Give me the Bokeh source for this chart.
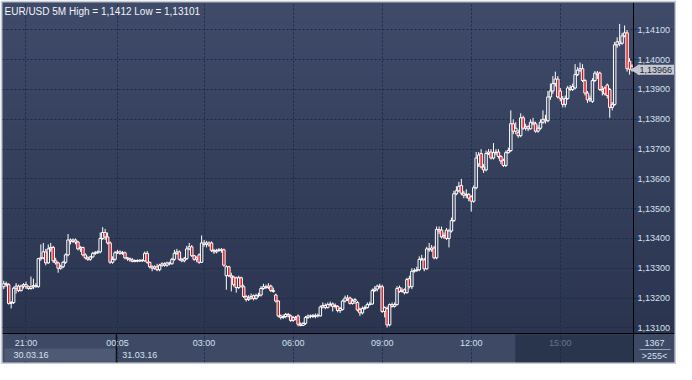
import numpy as np
from bokeh.plotting import figure
from bokeh.models import (ColumnDataSource, Range1d, FixedTicker, LinearAxis,
                          CustomJSTickFormatter, Label, BoxAnnotation)
from bokeh.embed import file_html
from bokeh.resources import INLINE

# ---------------- data (prices in 1e-5 above 1.13000) ----------------
open_p = [238,248,245,182,185,233,240,225,240,245,
          238,232,238,242,238,332,335,355,318,365,
          370,325,318,300,305,320,345,395,390,395,
          388,365,370,345,335,330,338,350,352,355,
          400,420,405,385,320,330,352,355,350,352,
          335,332,328,323,326,324,327,325,350,320,
          305,300,305,295,310,315,310,318,315,330,
          350,355,330,325,332,365,372,342,330,345,
          320,385,380,385,385,360,355,360,362,362,
          275,305,275,270,268,235,268,238,205,195,
          200,208,198,208,210,232,238,235,240,225,
          210,190,140,135,138,145,140,125,135,140,
          112,108,115,135,140,138,138,142,140,170,
          175,168,178,180,172,172,158,162,190,200,
          200,182,190,185,162,150,165,168,178,180,
          225,230,240,238,155,165,110,178,172,178,
          235,222,228,218,265,238,290,292,295,330,
          328,298,365,362,368,335,430,428,405,428,
          400,425,460,550,560,578,552,545,548,540,
          525,570,650,685,640,630,685,690,670,688,
          690,675,662,645,688,695,785,760,755,745,
          805,770,775,768,790,785,760,770,790,800,
          795,875,895,920,935,895,868,850,870,905,
          900,905,950,965,970,930,888,865,860,930,
          955,955,900,905,915,900,840,850,1050,1060,
          1055,1080,1090,995,978]
high_p = [258,255,250,190,238,250,245,245,250,255,
          242,272,265,250,335,380,385,365,380,385,
          375,335,322,312,325,350,415,400,400,400,
          392,375,372,350,340,342,355,358,360,420,
          438,432,420,390,340,358,362,360,358,356,
          338,336,334,330,330,330,330,356,358,322,
          310,310,315,315,320,320,322,322,335,362,
          365,360,335,338,375,385,378,345,340,350,
          410,395,392,390,390,365,365,368,368,366,
          310,308,285,275,272,275,272,245,210,210,
          215,212,215,218,240,248,245,250,245,235,
          215,192,145,145,150,150,145,140,140,145,
          118,120,140,145,145,146,148,148,175,185,
          182,185,188,185,182,176,170,195,208,210,
          205,198,200,190,168,172,175,185,188,232,
          240,245,248,245,172,172,182,185,185,240,
          242,235,232,268,275,300,300,305,340,345,
          335,372,385,378,375,440,440,440,420,435,
          432,470,560,575,590,600,560,565,552,545,
          578,690,690,700,650,695,700,700,720,700,
          700,680,668,695,705,830,800,790,765,820,
          812,785,780,800,805,792,780,800,830,815,
          895,920,945,960,945,905,878,880,912,915,
          920,985,975,990,985,935,895,880,938,962,
          962,960,912,910,920,905,858,1060,1075,1120,
          1090,1115,1100,1005,985]
low_p = [230,238,178,165,180,215,220,222,232,230,
         228,228,230,235,235,325,330,310,315,355,
         318,312,285,295,300,315,340,380,385,380,
         360,355,340,330,325,325,335,345,348,350,
         395,395,380,315,315,325,348,345,345,330,
         325,322,320,320,320,321,321,322,315,300,
         290,295,290,290,305,305,305,310,312,325,
         345,325,320,320,328,360,338,325,320,315,
         318,372,370,372,355,348,350,355,352,305,
         228,270,222,238,218,230,235,200,188,190,
         195,192,195,202,205,228,230,230,220,218,
         185,135,128,130,132,135,120,120,125,105,
         105,106,110,130,132,133,132,135,138,165,
         162,165,172,155,165,152,150,158,185,190,
         178,178,180,155,140,145,160,165,175,178,
         220,222,232,150,135,101,105,168,168,175,
         218,218,212,215,232,230,285,288,290,325,
         290,295,355,355,330,330,415,400,398,395,
         370,420,455,545,555,545,535,535,525,490,
         520,565,640,635,620,625,680,665,665,680,
         668,650,640,640,685,690,750,750,738,740,
         765,762,760,765,780,755,755,765,785,785,
         790,865,885,910,870,860,840,840,865,895,
         895,900,945,958,925,880,855,858,855,925,
         935,895,880,880,870,805,830,845,1040,1045,
         1050,1075,960,950,960]
close_p = [248,245,182,185,233,240,225,240,245,238,
           232,238,242,238,332,335,355,318,365,370,
           325,318,300,305,320,345,395,390,395,388,
           365,370,345,335,330,338,350,352,355,400,
           420,405,385,320,330,352,355,350,352,335,
           332,328,323,326,324,327,325,350,320,305,
           300,305,295,310,315,310,318,315,330,350,
           355,330,325,332,365,372,342,330,335,320,
           385,380,385,378,360,355,360,362,360,310,
           305,275,270,245,235,268,240,205,195,200,
           205,198,208,210,232,238,235,240,225,222,
           190,140,135,138,145,140,125,135,130,112,
           108,115,135,140,138,142,142,140,170,175,
           168,178,180,172,175,158,165,190,200,195,
           182,190,195,160,150,165,168,178,180,225,
           230,240,238,155,168,110,178,172,178,232,
           222,226,218,262,238,290,292,295,330,332,
           298,365,362,368,335,430,425,405,410,400,
           425,460,550,560,575,552,545,548,535,525,
           570,670,680,640,630,685,690,670,688,690,
           675,660,645,688,695,785,760,770,745,805,
           770,775,768,790,785,760,770,790,800,795,
           875,895,920,935,875,870,850,870,905,900,
           910,950,965,970,930,888,865,870,930,955,
           950,900,895,885,880,840,850,1050,1060,1055,
           1080,1090,970,968,966]

time_ticks = [9, 46, 81, 117, 153, 189, 225]
time_labels = ["21:00", "00:05", "03:00", "06:00", "09:00", "12:00", "15:00"]
date_ticks = [11, 55]
date_labels = ["30.03.16", "31.03.16"]
price_ticks = [1.131, 1.132, 1.133, 1.134, 1.135, 1.136, 1.137, 1.138, 1.139, 1.140, 1.141]
title_text = "EUR/USD 5M High = 1,1412 Low = 1,13101"
bars_total = "1367"
bars_visible = ">255<"
day_break = 45.5
highlight_from = 206.8

# ---------------- layout / styling ----------------
W, H = 676, 364
RIM = 2                 # light outer frame
PANEL_R, PANEL_B = 41, 29
CW = W - 2 * RIM - PANEL_R   # candle area width (px)
CH = H - 2 * RIM - PANEL_B   # candle area height (px)
X0, X1 = -0.5, 254.6
Y0, Y1 = 1.13081, 1.14192
dx = (X1 - X0) / CW
dy = (Y1 - Y0) / CH
XR = X1 + PANEL_R * dx
YB = Y0 - PANEL_B * dy
TXT = "#d6e0ee"
FONT = "Liberation Sans"
FS = "9px"

BASE, SCALE = 1.13, 1e5
o = BASE + np.array(open_p) / SCALE
h = BASE + np.array(high_p) / SCALE
l = BASE + np.array(low_p) / SCALE
c = BASE + np.array(close_p) / SCALE
idx = np.arange(len(c))
up = c >= o
top = np.maximum(o, c)
bot = np.minimum(o, c)
src = ColumnDataSource(dict(x=idx, h=h, l=l, top=top, bot=bot,
                            fill=np.where(up, "#36425f", "#e3121c"),
                            falpha=np.where(up, 0.0, 1.0)))

p = figure(width=W, height=H, x_range=Range1d(X0, XR), y_range=Range1d(YB, Y1),
           output_backend="svg", toolbar_location=None, y_axis_location="right",
           min_border_left=RIM, min_border_top=RIM, min_border_right=RIM, min_border_bottom=RIM)
p.border_fill_color = "#c8ccd4"
p.background_fill_color = "#3d4965"
p.outline_line_color = None

# background gradient (plot area + right scale panel)
g = np.linspace(0, 1, CH)[:, None]
top_rgb = np.array([63, 75, 105]); bot_rgb = np.array([43, 53, 80])
rgb = bot_rgb + (top_rgb - bot_rgb) * g
img = np.empty((CH, 1), dtype=np.uint32)
view = img.view(dtype=np.uint8).reshape((CH, 1, 4))
view[:, 0, 0] = rgb[:, 0]; view[:, 0, 1] = rgb[:, 1]; view[:, 0, 2] = rgb[:, 2]; view[:, 0, 3] = 255
p.image_rgba(image=[img], x=X0, y=Y0, dw=XR - X0, dh=Y1 - Y0, level="image")

def box(left, right, topv, bottom, color, alpha=1.0, level="underlay"):
    b = BoxAnnotation(left=left, right=right, top=topv, bottom=bottom,
                      fill_color=color, fill_alpha=alpha, line_color=None, level=level)
    p.add_layout(b)

box(0.3, day_break, Y0 - 15 * dy, Y0 - 28 * dy, "#4e5a74")                 # first date box
box(day_break - 0.2, day_break + 0.2, Y0, YB, "#000000")                    # day separator
box(X1 + 6 * dx, X1 + 37 * dx, Y0 - 15.5 * dy, Y0 - 16.5 * dy, "#9aa3b4")   # corner separator
box(highlight_from, X1, Y0 - 1 * dy, YB, "#1d263e", 0.6, "overlay")         # highlighted span

# grid
p.xgrid.ticker = FixedTicker(ticks=time_ticks)
p.ygrid.ticker = FixedTicker(ticks=price_ticks)
p.xgrid.bounds = (Y0, Y1)
p.ygrid.bounds = (X0, X1)
for gr in (p.xgrid, p.ygrid):
    gr.grid_line_color = "#1a2a4a"
    gr.grid_line_dash = "2 2"
    gr.grid_line_width = 1

# candles
p.segment(x0="x", y0="h", x1="x", y1="top", source=src, line_color="white", line_width=1)
p.segment(x0="x", y0="bot", x1="x", y1="l", source=src, line_color="white", line_width=1)
p.vbar(x="x", width=1.0, top="top", bottom="bot", source=src,
       fill_color="fill", fill_alpha="falpha", line_color="white", line_width=1)

def style_axis(ax, standoff):
    ax.major_tick_line_color = None
    ax.minor_tick_line_color = None
    ax.major_tick_out = 0
    ax.major_tick_in = 0
    ax.minor_tick_out = 0
    ax.minor_tick_in = 0
    ax.major_label_text_color = TXT
    ax.major_label_text_font = FONT
    ax.major_label_text_font_size = FS
    ax.major_label_standoff = standoff

# right price scale
ya = p.yaxis[0]
ya.fixed_location = X1
ya.ticker = FixedTicker(ticks=price_ticks)
ya.formatter = CustomJSTickFormatter(code="return tick.toFixed(5).replace('.', ',');")
style_axis(ya, 4)
ya.axis_line_color = "black"

# time scale
xa = p.xaxis[0]
xa.fixed_location = Y0
xa.ticker = FixedTicker(ticks=time_ticks)
xa.major_label_overrides = dict(zip(time_ticks, time_labels))
style_axis(xa, 4)
xa.axis_line_color = "black"

da = LinearAxis(ticker=FixedTicker(ticks=date_ticks), fixed_location=Y0 - 16 * dy,
                major_label_overrides=dict(zip(date_ticks, date_labels)),
                axis_line_color=None)
style_axis(da, 2)
p.add_layout(da, "below")

# texts
p.add_layout(Label(x=X0, y=Y1, x_offset=2, y_offset=-3, text=title_text,
                   text_baseline="top", text_color="#f2f4f8", text_font=FONT, text_font_size="10px"))

last_txt = f"{c[-1]:.5f}".replace(".", ",")
p.scatter(x=[X1 + 3 * dx], y=[c[-1]], marker="triangle", angle=np.pi / 2, size=11,
          fill_color="#c4c8d0", line_color=None, level="annotation")
tag = Label(x=X1 + 4 * dx, y=c[-1], text=last_txt, text_baseline="middle",
            text_color="#1e2636", text_font=FONT, text_font_size=FS,
            background_fill_color="#c4c8d0", background_fill_alpha=1.0)
try:
    tag.padding = 2
except Exception:
    pass
p.add_layout(tag)

p.add_layout(Label(x=X1 + 21 * dx, y=Y0, y_offset=-9, text=bars_total,
                   text_align="center", text_baseline="middle", text_color=TXT,
                   text_font=FONT, text_font_size=FS))
p.add_layout(Label(x=X1 + 21 * dx, y=Y0, y_offset=-22, text=bars_visible,
                   text_align="center", text_baseline="middle", text_color=TXT,
                   text_font=FONT, text_font_size=FS))

open("out.html", "w").write(file_html(p, INLINE))
